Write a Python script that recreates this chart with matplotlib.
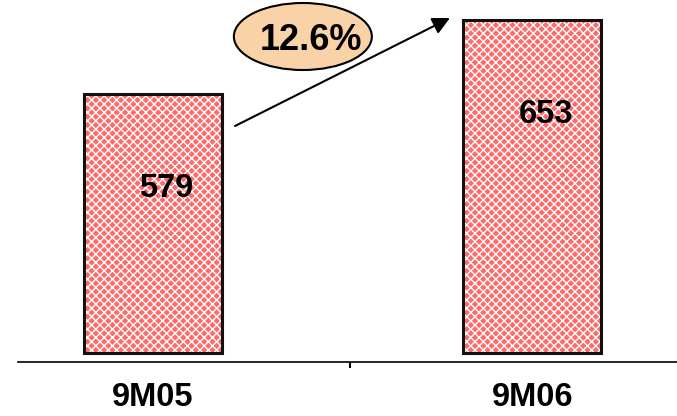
import matplotlib
matplotlib.use('Agg')
import matplotlib.pyplot as plt
from matplotlib.patches import Ellipse

categories = ['9M05', '9M06']
values = [579, 653]
growth_label = '12.6%'

base = 320  # value where the bars start

plt.rcParams['font.family'] = ['Liberation Sans', 'DejaVu Sans']

fig = plt.figure(figsize=(6.77, 4.16), dpi=100)
ax = fig.add_axes([0.026, 0.1305, 0.974, 0.8695])

x = list(range(len(categories)))
heights = [v - base for v in values]

# patterned fill, then a separate black outline
ax.bar(x, heights, bottom=base, width=0.363, color='#ff6a6a',
       edgecolor='white', linewidth=0, hatch='xxxx', zorder=2)
ax.bar(x, heights, bottom=base, width=0.363, fill=False,
       edgecolor='#111111', linewidth=2.2, zorder=3)

for i, v in enumerate(values):
    ax.text(i + 0.035, v - 94, str(v), ha='center', va='center',
            fontsize=23.5, fontweight='bold', zorder=4)
    ax.text(i, -0.098, categories[i], transform=ax.get_xaxis_transform(),
            ha='center', va='center', fontsize=23.5, fontweight='bold')

# growth arrow and bubble
ax.annotate('', xy=(0.783, 655), xytext=(0.216, 547),
            arrowprops=dict(arrowstyle='-|>', color='black', lw=1.5,
                            mutation_scale=26, shrinkA=0, shrinkB=0),
            zorder=5)
ax.add_patch(Ellipse((0.395, 636.5), 0.364, 67, facecolor='#fad2a8',
                     edgecolor='black', linewidth=1.5, zorder=6))
ax.text(0.417, 633, growth_label, ha='center', va='center',
        fontsize=26, fontweight='bold', zorder=7)

ax.set_xlim(-0.3575, 1.382)
ax.set_ylim(311.3, 673)
for side in ['top', 'right', 'left']:
    ax.spines[side].set_visible(False)
ax.spines['bottom'].set_linewidth(1.2)
ax.set_xticks([0.52])
ax.set_xticklabels([''])
ax.tick_params(axis='x', direction='out', length=4.5, width=1.5)
ax.set_yticks([])

fig.savefig('out.png', dpi=100)
